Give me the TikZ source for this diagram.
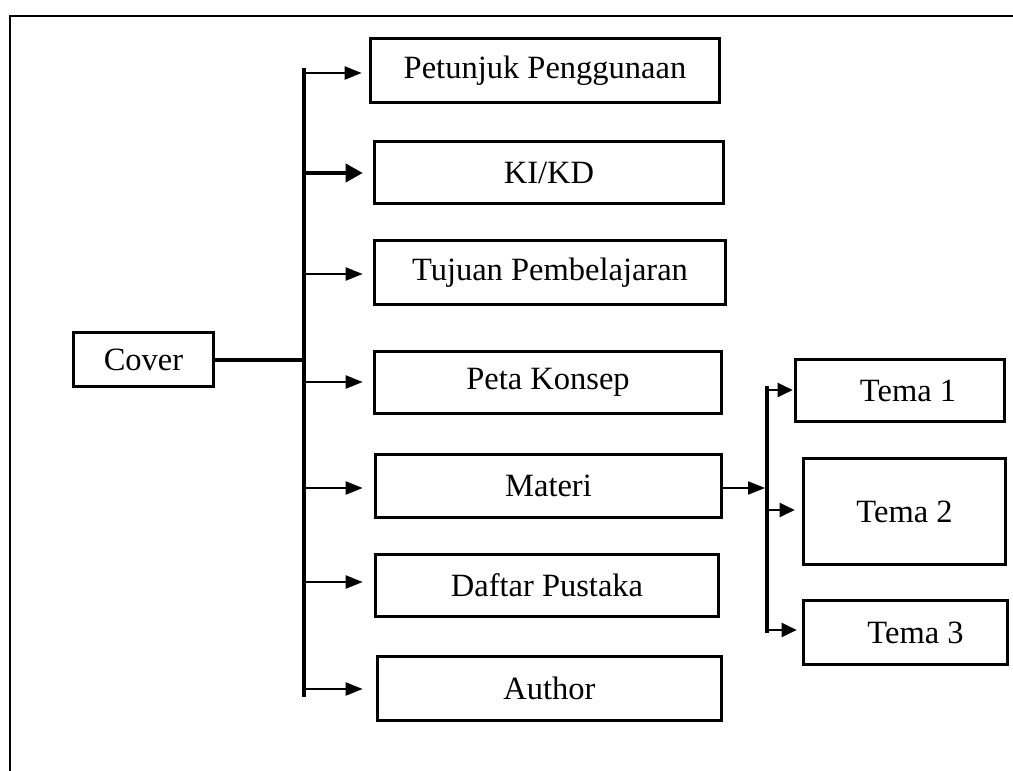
\documentclass[tikz,border=0pt]{standalone}
\usepackage{fontspec}
\setmainfont{Liberation Serif}
\usetikzlibrary{arrows.meta}
\begin{document}
\begin{tikzpicture}[x=1pt,y=-1pt,
  box/.style={draw,line width=3.6pt,inner sep=0pt,font=\fontsize{32.5}{38}\selectfont},
  bus/.style={line width=3.6pt},
  arr/.style={line width=2pt,-{Triangle[length=17pt,width=13pt]}},
  sarr/.style={line width=2pt,-{Triangle[length=15pt,width=14pt]}},
  frame/.style={line width=2pt}]
\useasboundingbox (0,0) rectangle (1013,771);
\draw[frame] (1013,16) -- (10,16) -- (10,771);
% main boxes
\node[box,minimum width=140pt,minimum height=54pt] (cover) at (143.5,359.5) {Cover};
\node[box,minimum width=349pt,minimum height=64pt] (p1) at (545,70.5) {Petunjuk Penggunaan};
\node[box,minimum width=349pt,minimum height=62pt] (p2) at (549,172.5) {KI/KD};
\node[box,minimum width=351pt,minimum height=64pt] (p3) at (550,272.5) {Tujuan Pembelajaran};
\node[box,minimum width=347pt,minimum height=62pt] (p4) at (548,382.5) {Peta Konsep};
\node[box,minimum width=346pt,minimum height=63pt] (p5) at (548.5,486) {Materi};
\node[box,minimum width=343pt,minimum height=62pt] (p6) at (547,585.5) {Daftar Pustaka};
\node[box,minimum width=344pt,minimum height=64pt] (p7) at (549.5,688.5) {Author};
% sub boxes
\node[box,minimum width=209pt,minimum height=62pt] (t1) at (900,390.5) {\hspace*{16pt}Tema 1};
\node[box,minimum width=202pt,minimum height=106pt] (t2) at (904.5,511.5) {Tema 2};
\node[box,minimum width=204pt,minimum height=64pt] (t3) at (905.5,632.5) {\hspace*{20pt}Tema 3};
% main bus
\coordinate (btop) at (304,68);
\coordinate (bbot) at (304,697);
\coordinate (bc) at (304,360);
\draw[bus] (btop) -- (bbot);
\draw[bus] (cover.east |- bc) -- (bc);
\coordinate (a1) at (304,73);
\coordinate (a2) at (304,173);
\coordinate (a3) at (304,274);
\coordinate (a4) at (304,382);
\coordinate (a5) at (304,488);
\coordinate (a6) at (304,582);
\coordinate (a7) at (304,689);
\draw[arr,shorten >=7pt] (a1) -- (a1 -| p1.west);
\draw[line width=3.6pt,-{Triangle[length=17pt,width=18pt]},shorten >=10pt] (a2) -- (a2 -| p2.west);
\draw[arr,shorten >=10pt] (a3) -- (a3 -| p3.west);
\draw[arr,shorten >=10pt] (a4) -- (a4 -| p4.west);
\draw[arr,shorten >=11pt] (a5) -- (a5 -| p5.west);
\draw[arr,shorten >=11pt] (a6) -- (a6 -| p6.west);
\draw[arr,shorten >=13pt] (a7) -- (a7 -| p7.west);
% sub bus
\coordinate (stop) at (767,386);
\coordinate (sbot) at (767,633);
\coordinate (sm) at (765,488);
\draw[bus] (stop) -- (sbot);
\draw[arr] (p5.east |- sm) -- (sm);
\coordinate (s1) at (767,390);
\coordinate (s2) at (767,510);
\coordinate (s3) at (767,630);
\draw[sarr,shorten >=1pt] (s1) -- (s1 -| t1.west);
\draw[sarr,shorten >=7pt] (s2) -- (s2 -| t2.west);
\draw[sarr,shorten >=5pt] (s3) -- (s3 -| t3.west);
\end{tikzpicture}
\end{document}
